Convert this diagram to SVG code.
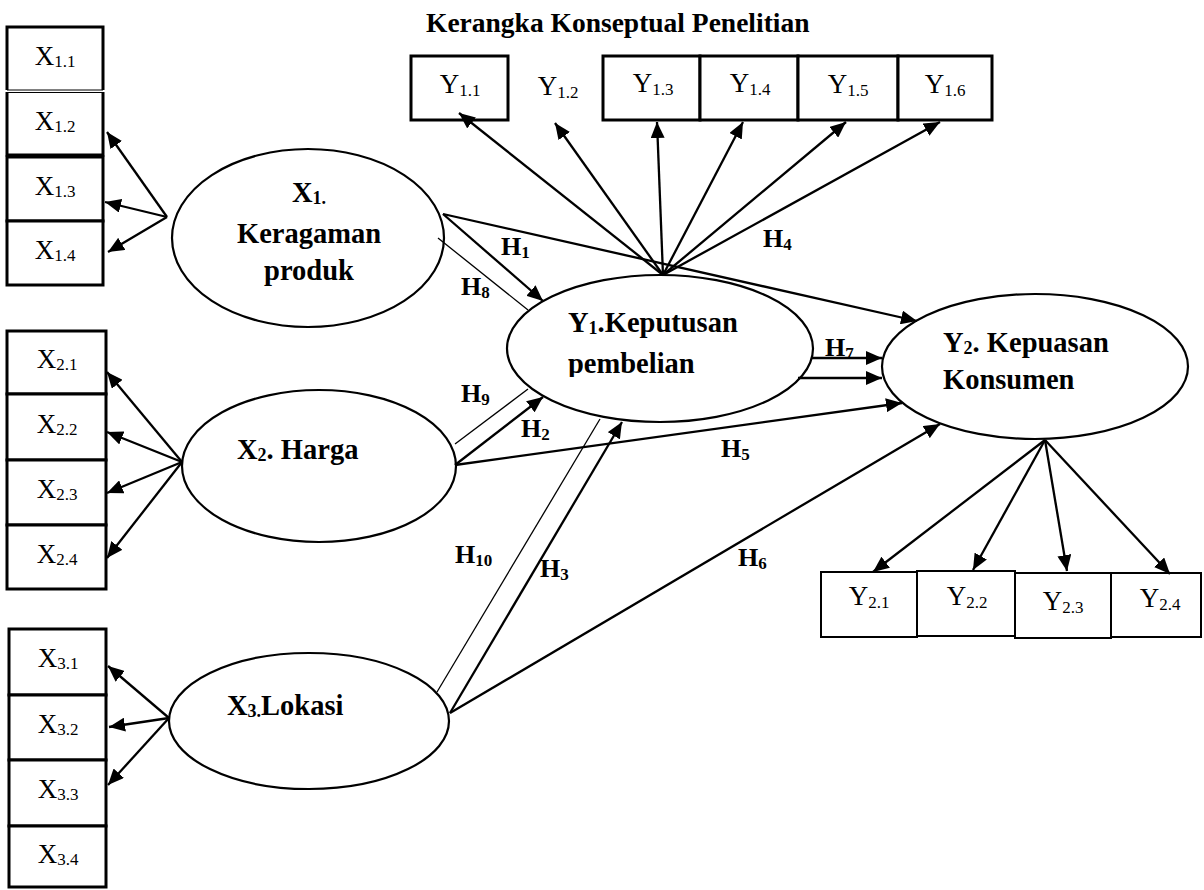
<svg xmlns="http://www.w3.org/2000/svg" width="1204" height="890" viewBox="0 0 1204 890">
<style>
text{font-family:"Liberation Serif","Times New Roman",serif;fill:#000}
.box{fill:#fff;stroke:#000;stroke-width:3}
.box2{fill:#fff;stroke:#000;stroke-width:2}
.ell{fill:#fff;stroke:#000;stroke-width:2.2}
.ind{font-size:27px;text-anchor:middle}
.sub{font-size:17px}
.lat{font-size:28.5px;font-weight:bold}
.lsub{font-size:18px}
.h{font-size:26px;font-weight:bold}
.hs{font-size:17px}
.c{stroke:#000;stroke-width:2.3;fill:none}
.a{marker-end:url(#ah)}
.t{stroke:#000;stroke-width:1.3;fill:none}
</style>
<defs>
<marker id="ah" viewBox="0 0 16 14" refX="16" refY="7" markerWidth="16" markerHeight="14" markerUnits="userSpaceOnUse" orient="auto">
<path d="M0,0 L16,7 L0,14 z" fill="#000"/>
</marker>
<clipPath id="y1clip"><rect x="500" y="290" width="320" height="87"/></clipPath>
</defs>

<text x="426" y="32" style="font-size:27.5px;font-weight:bold">Kerangka Konseptual Penelitian</text>

<g id="x1-1">
<path d="M7,90 V27 H103 V90" fill="#fff" stroke="#000" stroke-width="3"/>
<line x1="7" y1="90" x2="103" y2="90" stroke="#000" stroke-width="1"/>
<text class="ind" x="55" y="65">X<tspan class="sub" dy="2">1.1</tspan></text>
</g>
<g id="x1-2">
<path d="M7,92 V155 H103 V92" fill="#fff" stroke="#000" stroke-width="3"/>
<line x1="7" y1="92.5" x2="103" y2="92.5" stroke="#000" stroke-width="1"/>
<text class="ind" x="55" y="130">X<tspan class="sub" dy="2">1.2</tspan></text>
</g>
<g id="x1-3"><rect class="box" x="7" y="157" width="96" height="64"/><text class="ind" x="55" y="195">X<tspan class="sub" dy="2">1.3</tspan></text></g>
<g id="x1-4"><rect class="box" x="7" y="221" width="96" height="64"/><text class="ind" x="55" y="259">X<tspan class="sub" dy="2">1.4</tspan></text></g>

<g id="x2-1"><rect class="box" x="7" y="331" width="99" height="63"/><text class="ind" x="57" y="368">X<tspan class="sub" dy="2">2.1</tspan></text></g>
<g id="x2-2"><rect class="box" x="7" y="394" width="99" height="66"/><text class="ind" x="57" y="433">X<tspan class="sub" dy="2">2.2</tspan></text></g>
<g id="x2-3"><rect class="box" x="7" y="460" width="99" height="65"/><text class="ind" x="57" y="498">X<tspan class="sub" dy="2">2.3</tspan></text></g>
<g id="x2-4"><rect class="box" x="7" y="525" width="99" height="64"/><text class="ind" x="57" y="563">X<tspan class="sub" dy="2">2.4</tspan></text></g>

<g id="x3-1"><rect class="box" x="9" y="629" width="97" height="66"/><text class="ind" x="58" y="667">X<tspan class="sub" dy="2">3.1</tspan></text></g>
<g id="x3-2"><rect class="box" x="9" y="695" width="97" height="65"/><text class="ind" x="58" y="733">X<tspan class="sub" dy="2">3.2</tspan></text></g>
<g id="x3-3"><rect class="box" x="9" y="760" width="97" height="66"/><text class="ind" x="58" y="798">X<tspan class="sub" dy="2">3.3</tspan></text></g>
<g id="x3-4"><rect class="box" x="9" y="826" width="97" height="61"/><text class="ind" x="58" y="863">X<tspan class="sub" dy="2">3.4</tspan></text></g>

<g id="y1-1"><rect class="box" x="411" y="56" width="97" height="64"/><text class="ind" x="460" y="93">Y<tspan class="sub" dy="3">1.1</tspan></text></g>
<g id="y1-2"><text class="ind" x="558" y="95">Y<tspan class="sub" dy="3">1.2</tspan></text></g>
<g id="y1-3"><rect class="box" x="603" y="56" width="97" height="64"/><text class="ind" x="653" y="92">Y<tspan class="sub" dy="3">1.3</tspan></text></g>
<g id="y1-4"><rect class="box" x="700" y="56" width="98" height="64"/><text class="ind" x="750" y="92">Y<tspan class="sub" dy="3">1.4</tspan></text></g>
<g id="y1-5"><rect class="box" x="798" y="56" width="100" height="64"/><text class="ind" x="848" y="93">Y<tspan class="sub" dy="3">1.5</tspan></text></g>
<g id="y1-6"><rect class="box" x="898" y="56" width="94" height="64"/><text class="ind" x="945" y="93">Y<tspan class="sub" dy="3">1.6</tspan></text></g>

<g id="y2-1"><rect class="box2" x="821" y="572" width="96" height="65"/><text class="ind" x="869" y="605">Y<tspan class="sub" dy="3">2.1</tspan></text></g>
<g id="y2-2"><rect class="box2" x="917" y="571" width="98" height="65"/><text class="ind" x="967" y="605">Y<tspan class="sub" dy="3">2.2</tspan></text></g>
<g id="y2-3"><rect class="box2" x="1015" y="573" width="96" height="65"/><text class="ind" x="1063" y="610">Y<tspan class="sub" dy="3">2.3</tspan></text></g>
<g id="y2-4"><rect class="box2" x="1111" y="573" width="90" height="64"/><text class="ind" x="1160" y="607">Y<tspan class="sub" dy="3">2.4</tspan></text></g>

<g id="x1">
<ellipse class="ell" cx="308" cy="238" rx="136" ry="89"/>
<text class="lat" x="309" y="202" text-anchor="middle">X<tspan class="lsub" dy="2">1.</tspan></text>
<text class="lat" x="309" y="243" text-anchor="middle">Keragaman</text>
<text class="lat" x="309" y="280" text-anchor="middle">produk</text>
</g>
<g id="x2">
<ellipse class="ell" cx="319" cy="466" rx="137" ry="76"/>
<text class="lat" x="237" y="459">X<tspan class="lsub" dy="2">2</tspan><tspan dy="-2">. Harga</tspan></text>
</g>
<g id="x3">
<ellipse class="ell" cx="309" cy="721" rx="140" ry="68"/>
<text class="lat" x="227" y="715">X<tspan class="lsub" dy="2">3.</tspan><tspan dy="-2">Lokasi</tspan></text>
</g>
<g id="y1">
<ellipse class="ell" cx="660" cy="348.5" rx="153" ry="73.5"/>
<g clip-path="url(#y1clip)">
<text class="lat" x="568" y="332">Y<tspan class="lsub" dy="2">1</tspan><tspan dy="-2">.Keputusan</tspan></text>
<text class="lat" x="568" y="373">pembelian</text>
</g>
</g>
<g id="y2">
<ellipse class="ell" cx="1035" cy="366.5" rx="153" ry="72.5"/>
<text class="lat" x="943" y="352">Y<tspan class="lsub" dy="2">2</tspan><tspan dy="-2">. Kepuasan</tspan></text>
<text class="lat" x="943" y="389">Konsumen</text>
</g>

<g id="labels">
<text class="h" x="501" y="255">H<tspan class="hs" dy="3">1</tspan></text>
<text class="h" x="461" y="295">H<tspan class="hs" dy="3">8</tspan></text>
<text class="h" x="763" y="247">H<tspan class="hs" dy="3">4</tspan></text>
<text class="h" x="461" y="402">H<tspan class="hs" dy="3">9</tspan></text>
<text class="h" x="521" y="437">H<tspan class="hs" dy="3">2</tspan></text>
<text class="h" x="721" y="457">H<tspan class="hs" dy="3">5</tspan></text>
<text class="h" x="825" y="356">H<tspan class="hs" dy="3">7</tspan></text>
<text class="h" x="455" y="563">H<tspan class="hs" dy="3">10</tspan></text>
<text class="h" x="540" y="577">H<tspan class="hs" dy="3">3</tspan></text>
<text class="h" x="738" y="566">H<tspan class="hs" dy="3">6</tspan></text>
</g>

<g id="connectors">
<line class="c a" x1="167" y1="217" x2="107" y2="132"/>
<line class="c a" x1="167" y1="217" x2="105" y2="202"/>
<line class="c a" x1="167" y1="217" x2="108" y2="252"/>
<line class="c a" x1="182" y1="462" x2="107" y2="372"/>
<line class="c a" x1="182" y1="462" x2="107" y2="432"/>
<line class="c a" x1="182" y1="462" x2="107" y2="493"/>
<line class="c a" x1="182" y1="462" x2="107" y2="558"/>
<line class="c a" x1="169" y1="718" x2="108" y2="666"/>
<line class="c a" x1="169" y1="718" x2="109" y2="727"/>
<line class="c a" x1="169" y1="718" x2="108" y2="785"/>
<line class="c a" x1="663" y1="275" x2="459" y2="113"/>
<line class="c a" x1="663" y1="275" x2="555" y2="123"/>
<line class="c a" x1="663" y1="275" x2="657" y2="122"/>
<line class="c a" x1="663" y1="275" x2="743" y2="122"/>
<line class="c a" x1="663" y1="275" x2="846" y2="122"/>
<line class="c a" x1="663" y1="275" x2="940" y2="122"/>
<line class="c a" x1="1045" y1="440" x2="873" y2="572"/>
<line class="c a" x1="1045" y1="440" x2="973" y2="570"/>
<line class="c a" x1="1045" y1="440" x2="1067" y2="571"/>
<line class="c a" x1="1045" y1="440" x2="1170" y2="574"/>
<line class="c a" x1="443" y1="214" x2="543" y2="301"/>
<line class="c a" x1="443" y1="214" x2="917" y2="321"/>
<line class="t" x1="438" y1="238" x2="528" y2="310"/>
<line class="c a" x1="455" y1="465" x2="543" y2="397"/>
<line class="t" x1="455" y1="444" x2="528" y2="389"/>
<line class="c a" x1="455" y1="465" x2="902" y2="403"/>
<line class="c a" x1="450" y1="713" x2="622" y2="422"/>
<line class="t" x1="437" y1="692" x2="600" y2="419"/>
<line class="c a" x1="450" y1="713" x2="940" y2="424"/>
<line class="c a" x1="812" y1="358" x2="882" y2="358"/>
<line class="c a" x1="798" y1="378" x2="882" y2="378"/>
</g>
</svg>
